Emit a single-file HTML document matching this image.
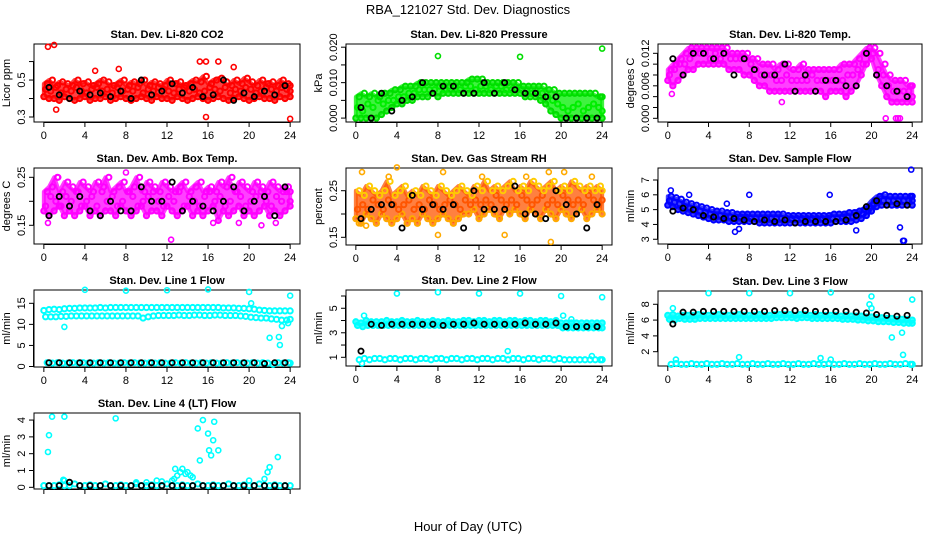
<!DOCTYPE html>
<html><head><meta charset="utf-8"><style>
html,body{margin:0;padding:0;background:#fff;}
svg{display:block;font-family:"Liberation Sans",sans-serif;}
</style></head><body>
<svg id="chart" width="936" height="540" viewBox="0 0 936 540">
<text x="468" y="14" font-size="13" text-anchor="middle">RBA_121027  Std. Dev. Diagnostics</text>
<text x="468" y="531" font-size="13" text-anchor="middle">Hour of Day (UTC)</text>
</svg>
<script>
// ---------- data ----------
const hours49 = [0,0.5,1,1.5,2,2.5,3,3.5,4,4.5,5,5.5,6,6.5,7,7.5,8,8.5,9,9.5,10,10.5,11,11.5,12,12.5,13,13.5,14,14.5,15,15.5,16,16.5,17,17.5,18,18.5,19,19.5,20,20.5,21,21.5,22,22.5,23,23.5,24];
const hours24 = [0.5,1.5,2.5,3.5,4.5,5.5,6.5,7.5,8.5,9.5,10.5,11.5,12.5,13.5,14.5,15.5,16.5,17.5,18.5,19.5,20.5,21.5,22.5,23.5];
const xTicks = [0,4,8,12,16,20,24];

const co2Lo = [0.41,0.40,0.40,0.39,0.41,0.40,0.39,0.40,0.41,0.39,0.40,0.40,0.41,0.39,0.40,0.41,0.40,0.39,0.40,0.41,0.40,0.39,0.41,0.40,0.40,0.39,0.41,0.40,0.39,0.40,0.41,0.40,0.39,0.40,0.41,0.40,0.39,0.40,0.41,0.40,0.39,0.40,0.41,0.40,0.40,0.39,0.41,0.40,0.41];
const co2Mid = [0.45,0.44,0.46,0.43,0.45,0.44,0.46,0.44,0.43,0.45,0.46,0.44,0.45,0.43,0.46,0.44,0.45,0.44,0.46,0.43,0.45,0.44,0.46,0.45,0.44,0.43,0.45,0.46,0.44,0.45,0.43,0.44,0.46,0.45,0.44,0.46,0.43,0.45,0.44,0.46,0.45,0.43,0.44,0.46,0.45,0.44,0.46,0.45,0.44];
const co2Hi = [0.48,0.50,0.47,0.49,0.48,0.47,0.50,0.48,0.49,0.47,0.48,0.50,0.49,0.47,0.48,0.50,0.47,0.49,0.48,0.50,0.47,0.49,0.48,0.47,0.50,0.48,0.49,0.47,0.48,0.50,0.49,0.52,0.48,0.50,0.51,0.49,0.47,0.50,0.48,0.51,0.49,0.47,0.50,0.48,0.49,0.47,0.50,0.48,0.47];
const co2Black = [0.46,0.42,0.40,0.44,0.42,0.43,0.41,0.44,0.40,0.50,0.42,0.44,0.48,0.43,0.46,0.41,0.42,0.50,0.39,0.43,0.41,0.44,0.42,0.47];
const co2OutT = [0.4,1,1.2,15.2,15.8,15.8,17,18.5,24,5,7.3];
const co2OutV = [0.68,0.69,0.34,0.60,0.60,0.30,0.60,0.57,0.29,0.55,0.56];

const prLo = [0.000,0.000,0.000,0.000,0.000,0.001,0.002,0.003,0.004,0.004,0.005,0.005,0.006,0.006,0.006,0.007,0.006,0.007,0.007,0.007,0.007,0.007,0.007,0.007,0.007,0.007,0.007,0.007,0.007,0.007,0.007,0.007,0.007,0.006,0.006,0.006,0.005,0.004,0.002,0.001,0.000,0.000,0.000,0.000,0.000,0.000,0.000,0.000,0.000];
const prMid = [0.003,0.002,0.004,0.003,0.005,0.004,0.005,0.005,0.006,0.006,0.007,0.007,0.008,0.008,0.008,0.008,0.009,0.008,0.009,0.009,0.008,0.009,0.009,0.008,0.009,0.009,0.008,0.009,0.009,0.008,0.008,0.008,0.008,0.008,0.007,0.007,0.007,0.006,0.005,0.004,0.003,0.002,0.003,0.004,0.002,0.003,0.004,0.003,0.002];
const prHi = [0.006,0.007,0.006,0.007,0.006,0.007,0.007,0.008,0.008,0.009,0.009,0.009,0.010,0.010,0.010,0.010,0.010,0.010,0.010,0.010,0.010,0.010,0.011,0.011,0.011,0.010,0.010,0.010,0.010,0.010,0.010,0.010,0.009,0.009,0.009,0.009,0.009,0.008,0.008,0.007,0.007,0.007,0.007,0.007,0.007,0.007,0.007,0.006,0.006];
const prBlack = [0.003,0.000,0.007,0.002,0.005,0.006,0.010,0.007,0.009,0.009,0.007,0.007,0.010,0.007,0.010,0.008,0.007,0.007,0.006,0.006,0.000,0.000,0.000,0.000];
const prOutT = [8,16,24];
const prOutV = [0.0175,0.0173,0.0196];

const tpLo = [0.007,0.006,0.007,0.008,0.009,0.009,0.010,0.010,0.010,0.010,0.010,0.010,0.009,0.009,0.009,0.008,0.008,0.007,0.006,0.006,0.005,0.005,0.005,0.005,0.005,0.005,0.005,0.005,0.005,0.005,0.005,0.004,0.005,0.005,0.005,0.004,0.005,0.006,0.008,0.010,0.011,0.008,0.006,0.004,0.003,0.003,0.003,0.003,0.003];
const tpMid = [0.008,0.009,0.010,0.010,0.011,0.012,0.012,0.012,0.011,0.012,0.011,0.012,0.011,0.011,0.011,0.011,0.010,0.009,0.008,0.008,0.008,0.007,0.007,0.008,0.007,0.007,0.007,0.007,0.008,0.007,0.007,0.007,0.007,0.007,0.007,0.008,0.008,0.009,0.010,0.012,0.012,0.009,0.008,0.006,0.005,0.005,0.005,0.005,0.004];
const tpHi = [0.009,0.010,0.011,0.012,0.013,0.013,0.013,0.013,0.013,0.013,0.013,0.013,0.012,0.012,0.012,0.012,0.011,0.011,0.010,0.010,0.010,0.009,0.010,0.010,0.009,0.009,0.010,0.009,0.009,0.009,0.009,0.009,0.009,0.009,0.010,0.010,0.010,0.011,0.012,0.013,0.013,0.012,0.010,0.008,0.007,0.007,0.007,0.006,0.006];
const tpBlack = [0.011,0.008,0.012,0.012,0.011,0.012,0.008,0.011,0.009,0.008,0.008,0.010,0.005,0.008,0.005,0.007,0.007,0.006,0.006,0.012,0.008,0.006,0.005,0.004];
const tpOutT = [21.4,22.4,22.6,22.8,0.4,11.2];
const tpOutV = [0,0,0,0,0.0045,0.003];

const abLo = [0.18,0.17,0.18,0.19,0.17,0.18,0.17,0.18,0.19,0.17,0.18,0.17,0.18,0.18,0.17,0.19,0.18,0.17,0.18,0.19,0.17,0.18,0.18,0.17,0.19,0.18,0.17,0.18,0.19,0.17,0.18,0.17,0.18,0.19,0.16,0.18,0.17,0.18,0.19,0.17,0.18,0.17,0.18,0.19,0.17,0.18,0.17,0.18,0.19];
const abMid = [0.19,0.21,0.20,0.19,0.21,0.20,0.22,0.19,0.20,0.21,0.19,0.22,0.20,0.21,0.19,0.20,0.22,0.21,0.19,0.20,0.21,0.22,0.20,0.19,0.21,0.20,0.22,0.19,0.21,0.20,0.19,0.21,0.22,0.20,0.21,0.19,0.20,0.22,0.21,0.19,0.20,0.21,0.22,0.20,0.19,0.21,0.20,0.22,0.20];
const abHi = [0.22,0.23,0.25,0.22,0.24,0.23,0.22,0.24,0.23,0.22,0.24,0.23,0.25,0.22,0.23,0.24,0.22,0.23,0.25,0.22,0.24,0.23,0.22,0.24,0.23,0.22,0.23,0.24,0.22,0.23,0.24,0.22,0.23,0.22,0.24,0.23,0.25,0.22,0.24,0.23,0.22,0.24,0.23,0.22,0.24,0.23,0.22,0.23,0.22];
const abBlack = [0.17,0.21,0.19,0.21,0.18,0.17,0.20,0.18,0.18,0.23,0.20,0.20,0.24,0.18,0.20,0.19,0.18,0.20,0.23,0.18,0.20,0.21,0.17,0.23];
const abOutT = [0.4,12.4,21.2,22.6,8,1.4,16.5,19];
const abOutV = [0.155,0.12,0.15,0.155,0.26,0.25,0.155,0.155];

const rhLo = [0.19,0.18,0.20,0.19,0.18,0.20,0.19,0.18,0.19,0.20,0.18,0.19,0.18,0.20,0.19,0.18,0.19,0.20,0.19,0.18,0.19,0.20,0.20,0.21,0.19,0.20,0.21,0.20,0.19,0.21,0.20,0.21,0.20,0.19,0.21,0.20,0.19,0.21,0.20,0.19,0.21,0.20,0.19,0.20,0.21,0.19,0.20,0.21,0.20];
const rhMid = [0.21,0.22,0.21,0.23,0.22,0.21,0.23,0.22,0.21,0.22,0.23,0.21,0.22,0.21,0.23,0.22,0.21,0.22,0.23,0.22,0.21,0.23,0.22,0.23,0.22,0.23,0.22,0.24,0.23,0.22,0.23,0.22,0.24,0.23,0.22,0.23,0.24,0.22,0.23,0.22,0.24,0.23,0.22,0.23,0.22,0.24,0.23,0.22,0.23];
const rhHi = [0.25,0.24,0.26,0.25,0.24,0.25,0.27,0.24,0.25,0.26,0.24,0.25,0.24,0.26,0.25,0.24,0.26,0.25,0.24,0.25,0.26,0.25,0.24,0.26,0.25,0.27,0.25,0.26,0.25,0.26,0.27,0.25,0.26,0.25,0.27,0.26,0.25,0.26,0.27,0.25,0.26,0.25,0.27,0.26,0.25,0.26,0.25,0.26,0.25];
const rhBlack = [0.19,0.21,0.22,0.22,0.17,0.24,0.21,0.22,0.21,0.22,0.17,0.25,0.21,0.21,0.21,0.26,0.20,0.20,0.19,0.25,0.22,0.20,0.17,0.22];
const rhOutT = [0.6,3.2,4,8.5,12.3,16.6,18.8,19,20.3,23,8,14.5,0.3,1,2];
const rhOutV = [0.29,0.28,0.30,0.29,0.28,0.28,0.29,0.14,0.29,0.28,0.155,0.155,0.18,0.175,0.18];

const sfLo = [5.3,5.2,5.0,4.9,4.8,4.7,4.6,4.5,4.4,4.3,4.3,4.3,4.2,4.2,4.2,4.2,4.2,4.2,4.1,4.1,4.1,4.1,4.1,4.1,4.1,4.1,4.1,4.1,4.1,4.1,4.1,4.1,4.1,4.2,4.2,4.2,4.2,4.3,4.4,4.6,4.9,5.2,5.3,5.3,5.3,5.3,5.3,5.3,5.3];
const sfMid = [5.6,5.5,5.4,5.2,5.1,5.0,4.9,4.8,4.7,4.6,4.6,4.5,4.5,4.5,4.5,4.5,4.4,4.4,4.4,4.4,4.4,4.4,4.4,4.4,4.4,4.4,4.4,4.4,4.4,4.4,4.4,4.4,4.4,4.4,4.5,4.5,4.5,4.6,4.7,4.9,5.3,5.6,5.6,5.6,5.6,5.6,5.6,5.6,5.6];
const sfHi = [5.9,5.8,5.7,5.5,5.4,5.3,5.2,5.1,5.0,4.9,4.9,4.8,4.8,4.7,4.7,4.7,4.7,4.7,4.7,4.7,4.7,4.7,4.7,4.6,4.6,4.6,4.6,4.6,4.6,4.6,4.6,4.6,4.7,4.7,4.7,4.8,4.8,4.9,5.0,5.2,5.6,5.9,6.0,5.9,5.9,5.9,5.9,5.9,5.9];
const sfBlack = [4.9,5.1,5.0,4.6,4.5,4.4,4.4,4.3,4.2,4.3,4.2,4.3,4.1,4.2,4.2,4.2,4.2,4.3,4.6,5.2,5.6,5.3,5.4,5.3];
const sfOutT = [0.3,2.1,8,15.9,6.6,7,22.8,23.1,23.2,23.9,18.5,5.8];
const sfOutV = [6.3,6.0,6.0,6.0,3.5,3.7,3.8,2.9,2.9,7.7,3.6,5.4];

const l1A = [13.3,13.5,13.6,13.5,13.7,13.8,13.8,13.9,13.9,13.9,13.9,14.0,13.9,14.0,14.0,14.0,14.0,14.0,14.0,14.0,14.0,14.0,14.0,14.0,14.0,14.0,14.0,14.0,14.0,14.0,14.0,14.0,14.0,14.0,14.0,13.9,13.9,13.9,13.8,13.8,13.7,13.6,13.4,13.3,13.2,13.2,13.2,13.2,13.2];
const l1B = [11.8,11.8,11.8,11.9,11.9,12.0,12.0,12.0,12.0,12.0,12.0,12.0,12.0,12.0,12.0,12.0,12.0,12.0,12.0,11.5,11.8,12.0,12.1,12.1,12.1,12.1,12.2,12.1,12.1,12.2,12.2,12.1,12.1,12.2,12.2,12.1,12.1,12.1,12.0,11.9,11.7,11.6,11.5,11.5,11.3,11.2,11.0,11.0,11.2];
const l1C = [0.9,0.8,0.9,0.8,0.8,0.9,0.8,0.9,0.8,0.8,0.9,0.8,0.9,0.8,0.8,0.9,0.8,0.9,0.8,0.8,0.9,0.8,0.9,0.8,0.8,0.9,0.8,0.9,0.8,0.8,0.9,0.8,0.9,0.8,0.8,0.9,0.8,0.9,0.8,0.8,0.9,0.8,0.9,0.8,0.5,0.9,0.8,0.9,0.8];
const l1Black = [0.9,0.9,0.9,0.9,0.9,0.9,0.9,0.9,0.9,0.9,0.9,0.9,0.9,0.9,0.9,0.9,0.9,0.9,0.9,0.9,0.9,0.7,0.9,0.9];
const l1OutT = [4,8,12,16,20,20.2,2,22,22.9,23,23.2,23.8,24];
const l1OutV = [18.2,18,18.1,18.3,17.7,15,9.4,6.8,7,5.1,9.6,10.3,16.8];

const l2A = [3.9,3.8,4.0,3.9,3.9,3.9,4.0,3.9,3.9,4.0,3.9,3.9,4.0,3.9,3.9,4.0,3.9,3.9,4.0,3.9,3.9,4.0,4.0,3.9,4.0,4.0,3.9,4.0,4.0,3.9,4.0,4.0,3.9,4.0,4.0,3.9,4.0,4.0,3.9,4.0,3.8,3.8,3.8,3.8,3.8,3.8,3.8,3.8,3.8];
const l2B = [3.6,3.5,3.6,3.6,3.6,3.6,3.6,3.6,3.6,3.6,3.6,3.6,3.6,3.6,3.6,3.6,3.6,3.6,3.6,3.6,3.6,3.6,3.6,3.6,3.6,3.6,3.6,3.6,3.6,3.6,3.6,3.6,3.6,3.6,3.6,3.6,3.6,3.6,3.6,3.6,3.4,3.4,3.4,3.4,3.4,3.4,3.4,3.4,3.4];
const l2C = [0.8,0.9,0.8,0.9,0.9,0.8,0.9,0.9,0.8,0.9,0.9,0.8,0.9,0.9,0.8,0.9,0.9,0.8,0.9,0.9,0.8,0.9,0.9,0.8,0.9,0.9,0.8,0.9,0.9,0.8,0.9,0.9,0.8,0.9,0.9,0.8,0.9,0.9,0.8,0.9,0.8,0.8,0.8,0.8,0.8,0.8,0.8,0.8,0.8];
const l2Black = [1.5,3.7,3.6,3.7,3.7,3.7,3.7,3.7,3.6,3.7,3.7,3.8,3.7,3.7,3.7,3.7,3.8,3.7,3.7,3.8,3.5,3.5,3.5,3.5];
const l2OutT = [4,8,12,16,20,24,0.8,14.8,0.6,1,15.5,20.2,21,23];
const l2OutV = [6.2,6.3,6.2,6.2,6,5.9,4.4,1.5,0.5,4.0,4.0,4.4,4.1,1.1];

const l3A = [6.6,6.7,6.5,6.6,6.6,6.6,6.7,6.6,6.6,6.6,6.7,6.6,6.6,6.6,6.7,6.6,6.6,6.6,6.7,6.6,6.6,6.7,6.7,6.7,6.7,6.6,6.7,6.7,6.6,6.7,6.6,6.6,6.6,6.6,6.5,6.6,6.5,6.5,6.5,6.4,6.4,6.3,6.3,6.2,6.2,6.1,6.1,6.1,6.0];
const l3B = [6.1,6.0,6.2,6.1,6.1,6.1,6.2,6.2,6.2,6.2,6.2,6.2,6.2,6.2,6.2,6.2,6.2,6.2,6.2,6.2,6.2,6.3,6.3,6.3,6.3,6.2,6.3,6.3,6.2,6.2,6.2,6.2,6.2,6.2,6.1,6.1,6.1,6.0,6.0,5.9,5.9,5.8,5.8,5.8,5.7,5.7,5.6,5.6,5.6];
const l3C = [0.4,0.5,0.4,0.4,0.5,0.4,0.4,0.5,0.4,0.4,0.5,0.4,0.4,0.5,0.4,0.4,0.5,0.4,0.4,0.5,0.4,0.4,0.5,0.4,0.4,0.5,0.4,0.4,0.5,0.4,0.4,0.5,0.4,0.4,0.5,0.4,0.4,0.5,0.4,0.4,0.5,0.4,0.4,0.5,0.4,0.4,0.5,0.4,0.4];
const l3Black = [5.5,7.0,7.0,7.1,7.1,7.1,7.1,7.1,7.1,7.1,7.2,7.2,7.2,7.2,7.1,7.1,7.1,7.1,7.0,6.9,6.7,6.6,6.5,6.6];
const l3OutT = [4,8,12,16,20,24,0.5,22,23,23.1,20,7,15,16,19.8,0.8];
const l3OutV = [9.4,9.4,9.4,9.5,9,8.6,7.5,3.8,4.4,1.6,7.5,1.3,1.2,1.0,8.0,1.0];

const l4A = [0.1,0.1,0.1,0.15,0.1,0.1,0.2,0.1,0.1,0.15,0.1,0.1,0.2,0.1,0.1,0.15,0.1,0.1,0.2,0.1,0.1,0.15,0.1,0.1,0.2,0.1,0.1,0.15,0.1,0.1,0.2,0.1,0.1,0.15,0.1,0.1,0.2,0.1,0.1,0.15,0.1,0.1,0.2,0.1,0.1,0.15,0.1,0.1,0.1];
const l4Black = [0.1,0.1,0.3,0.1,0.1,0.1,0.1,0.1,0.1,0.1,0.1,0.1,0.1,0.1,0.1,0.1,0.1,0.1,0.1,0.1,0.1,0.1,0.1,0.1];
const l4OutT = [0.4,0.5,0.8,2,7,12.5,12.7,12.8,13,13.3,13.5,13.8,14,14.3,14.5,15,15.2,15.5,16,16.1,16.3,16.5,16.6,17,21.5,21.8,22,22.8,2,1.9,11,11.5,10,9,20];
const l4OutV = [2.1,3.1,4.2,4.2,4.1,0.4,0.5,1.1,0.7,0.9,1.1,0.8,0.9,0.7,0.6,3.5,1.6,4.0,3.2,2.2,1.9,2.8,3.9,2.2,0.5,0.9,1.2,1.8,0.4,0.45,0.4,0.35,0.3,0.3,0.4];

// ---------- drawing ----------
const NS = 'http://www.w3.org/2000/svg';
const svg = document.getElementById('chart');
function mk(tag, attrs, parent){ const e=document.createElementNS(NS,tag); for(const k in attrs) e.setAttribute(k,attrs[k]); (parent||svg).appendChild(e); return e; }

const panels = [
 {id:'co2',title:'Stan. Dev. Li-820 CO2',ylab:'Licor ppm',x:34,y:44,w:266,h:78,ymin:0.273,ymax:0.695,ticks:[0.3,0.4,0.5,0.6],labels:['0.3','','0.5',''],col:['#ff0000','#ff0000','#ff0000'],band:[0,2],ser:[co2Lo,co2Mid,co2Hi],blk:co2Black,oT:co2OutT,oV:co2OutV},
 {id:'pressure',title:'Stan. Dev. Li-820 Pressure',ylab:'kPa',x:346,y:44,w:266,h:78,ymin:-0.0011,ymax:0.0209,ticks:[0,0.005,0.01,0.015,0.02],labels:['0.000','','0.010','','0.020'],col:['#00dd00','#00ee00','#00dd00'],band:[0,2],ser:[prLo,prMid,prHi],blk:prBlack,oT:prOutT,oV:prOutV},
 {id:'temp',title:'Stan. Dev. Li-820 Temp.',ylab:'degrees C',x:658,y:44,w:264,h:78,ymin:-0.00068,ymax:0.01372,ticks:[0,0.002,0.004,0.006,0.008,0.010,0.012],labels:['0.000','','','0.006','','','0.012'],col:['#ff00ff','#ff00ff','#ff00ff'],band:[0,2],ser:[tpLo,tpMid,tpHi],blk:tpBlack,oT:tpOutT,oV:tpOutV},
 {id:'ambbox',title:'Stan. Dev. Amb. Box Temp.',ylab:'degrees C',x:34,y:168,w:266,h:76,ymin:0.111,ymax:0.2694,ticks:[0.15,0.2,0.25],labels:['0.15','','0.25'],col:['#ff00ff','#ff00ff','#ff00ff'],band:[0,2],ser:[abLo,abMid,abHi],blk:abBlack,oT:abOutT,oV:abOutV},
 {id:'rh',title:'Stan. Dev. Gas Stream RH',ylab:'percent',x:346,y:168,w:266,h:77,ymin:0.1335,ymax:0.2987,ticks:[0.15,0.2,0.25],labels:['0.15','','0.25'],col:['#ffaa00','#ff5500','#ffcc00'],band:[0,2],ser:[rhLo,rhMid,rhHi],blk:rhBlack,oT:rhOutT,oV:rhOutV},
 {id:'sampleflow',title:'Stan. Dev. Sample Flow',ylab:'ml/min',x:658,y:168,w:264,h:76,ymin:2.68,ymax:7.81,ticks:[3,4,5,6,7],labels:['3','4','5','6','7'],col:['#0000ff','#0000ff','#0000ff'],band:[0,2],ser:[sfLo,sfMid,sfHi],blk:sfBlack,oT:sfOutT,oV:sfOutV},
 {id:'line1',title:'Stan. Dev. Line 1 Flow',ylab:'ml/min',x:34,y:290,w:266,h:77,ymin:-0.12,ymax:18.16,ticks:[0,5,10,15],labels:['0','5','10','15'],col:['#00ffff','#00ffff','#00ffff'],band:null,ser:[l1A,l1B,l1C],blk:l1Black,oT:l1OutT,oV:l1OutV},
 {id:'line2',title:'Stan. Dev. Line 2 Flow',ylab:'ml/min',x:346,y:290,w:266,h:76,ymin:0.29,ymax:6.49,ticks:[1,2,3,4,5,6],labels:['1','','3','','5',''],col:['#00ffff','#00ffff','#00ffff'],band:[0,1],ser:[l2A,l2B,l2C],blk:l2Black,oT:l2OutT,oV:l2OutV},
 {id:'line3',title:'Stan. Dev. Line 3 Flow',ylab:'ml/min',x:658,y:291,w:264,h:75,ymin:0.19,ymax:9.68,ticks:[2,4,6,8],labels:['2','4','6','8'],col:['#00ffff','#00ffff','#00ffff'],band:[0,1],ser:[l3A,l3B,l3C],blk:l3Black,oT:l3OutT,oV:l3OutV},
 {id:'line4',title:'Stan. Dev. Line 4 (LT) Flow',ylab:'ml/min',x:34,y:413,w:266,h:76,ymin:-0.1,ymax:4.42,ticks:[0,1,2,3,4],labels:['0','1','2','3','4'],col:['#00ffff','#00ffff','#00ffff'],band:null,ser:[l4A],blk:l4Black,oT:l4OutT,oV:l4OutV}
];
const offsets = [0, 0.17, 0.33];

panels.forEach(p=>{
  const g = mk('g',{});
  
  
  const sx = t => p.x + (t + 0.96) / 25.92 * p.w;
  const sy = v => p.y + p.h - (v - p.ymin) / (p.ymax - p.ymin) * p.h;
  const t = mk('text',{x:p.x+p.w/2,y:p.y-6,'font-size':11,'font-weight':'bold','text-anchor':'middle'},g);
  t.textContent = p.title;
  
  
  const yl = mk('text',{x:0,y:0,'font-size':11,'text-anchor':'middle',transform:`translate(${p.x-24},${p.y+p.h/2}) rotate(-90)`},g);
  yl.textContent = p.ylab;
  
  
  const box = mk('rect',{x:p.x,y:p.y,width:p.w,height:p.h,fill:'none',stroke:'#000','stroke-width':1},g);
  
  
  // y axis
  const ya = mk('g',{},g);
  
  
  mk('line',{x1:p.x-0.5,x2:p.x-0.5,y1:sy(p.ticks[0]),y2:sy(p.ticks[p.ticks.length-1]),stroke:'#000'},ya);
  p.ticks.forEach((v,i)=>{
    mk('line',{x1:p.x-5,x2:p.x,y1:sy(v),y2:sy(v),stroke:'#000'},ya);
    if(p.labels[i]){
      const l = mk('text',{x:0,y:0,'font-size':11,'text-anchor':'middle',transform:`translate(${p.x-9},${sy(v)}) rotate(-90)`},ya);
      l.textContent = p.labels[i];
      
      
    }
  });
  // x axis
  const xa = mk('g',{},g);
  
  
  const by = p.y + p.h;
  mk('line',{x1:sx(0),x2:sx(24),y1:by+0.5,y2:by+0.5,stroke:'#000'},xa);
  xTicks.forEach(v=>{
    mk('line',{x1:sx(v),x2:sx(v),y1:by,y2:by+5,stroke:'#000'},xa);
    if(p.id!=='line4'){
      const l = mk('text',{x:sx(v),y:by+17,'font-size':11,'text-anchor':'middle'},xa);
      l.textContent = v;
      
      
    }
  });
  // dense cloud band between series extremes
  if(p.band){
    const a = p.ser[p.band[0]], b = p.ser[p.band[1]];
    const up = hours49.map((h,i)=>`${sx(h)},${sy(Math.max(a[i],b[i]))}`);
    const dn = hours49.map((h,i)=>`${sx(h)},${sy(Math.min(a[i],b[i]))}`).reverse();
    const band = mk('polygon',{points:up.concat(dn).join(' '),fill:p.col[1],'fill-opacity':0.75,stroke:p.col[1],'stroke-width':4,'stroke-linejoin':'round','stroke-opacity':0.75},g);
    
    
  }
  // colored series
  p.ser.forEach((arr,si)=>{
    const sg = mk('g',{fill:'none',stroke:p.col[si],'stroke-width':2},g);
    
    
    arr.forEach((v,i)=>{
      const c = mk('circle',{cx:sx(Math.min(24,hours49[i]+offsets[si])),cy:sy(v),r:2.6},sg);
      
      
    });
  });
  const og = mk('g',{fill:'none',stroke:p.col[0],'stroke-width':1.6},g);
  
  
  p.oT.forEach((tt,i)=>{
    const c = mk('circle',{cx:sx(tt),cy:sy(p.oV[i]),r:2.5},og);
    
    
  });
  const bg = mk('g',{fill:'none',stroke:'#000','stroke-width':1.8},g);
  
  
  p.blk.forEach((v,i)=>{
    const c = mk('circle',{cx:sx(hours24[i]),cy:sy(v),r:2.6},bg);
    
    
  });
});
</script>
</body></html>
